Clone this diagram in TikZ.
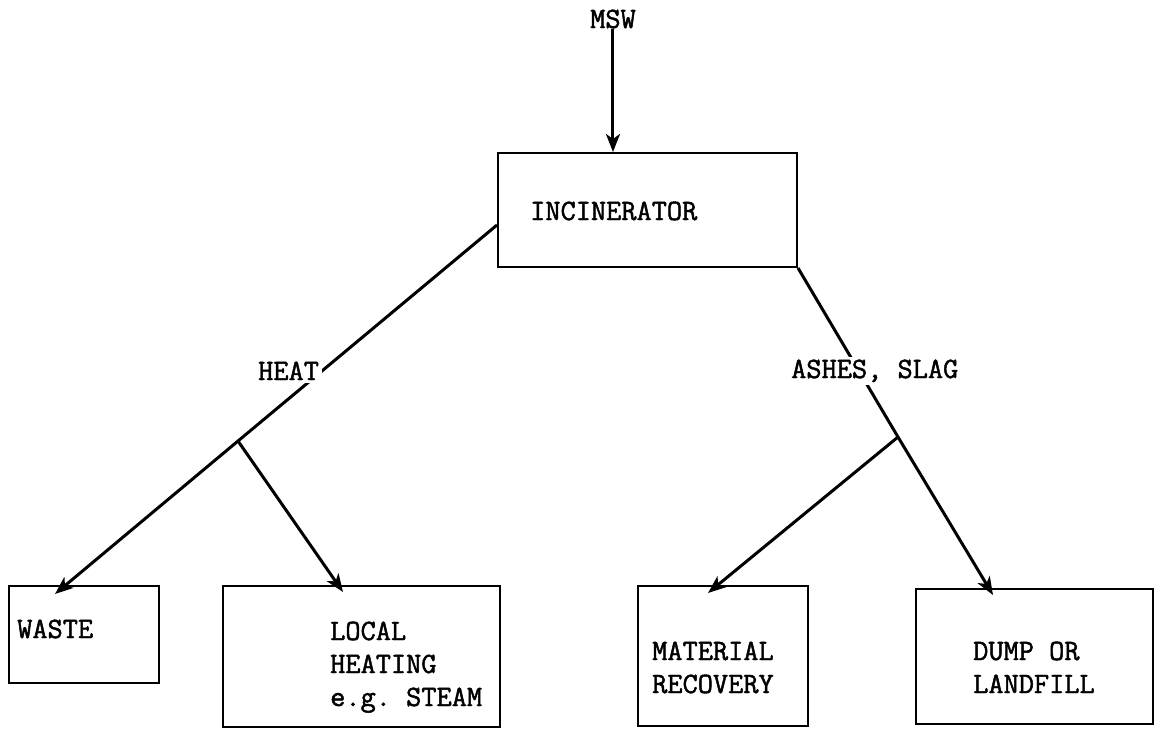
\documentclass[tikz,border=0pt]{standalone}
\usepackage{fontspec}
\setmonofont{Latin Modern Mono}[FakeBold=1.6]
\usetikzlibrary{arrows.meta}
\begin{document}
\begin{tikzpicture}[x=1pt,y=-1pt,
  box/.style={draw, line width=2pt, inner sep=0pt, anchor=north west},
  tt/.style={font=\ttfamily\bfseries\fontsize{29.5}{33}\selectfont},
  txt/.style={tt, inner sep=0pt, anchor=base west, align=left},
  lbl/.style={tt, fill=white, inner sep=3pt, anchor=base west},
  conn/.style={line width=3pt},
  arr/.style={conn, -{Stealth[length=18pt,width=14pt,inset=5pt]}}]
\useasboundingbox (0,0) rectangle (1156,728);

% boxes
\node[box, minimum width=299pt, minimum height=114pt] (inc) at (497,152) {};
\node[box, minimum width=150pt, minimum height=97pt] (waste) at (8,585) {};
\node[box, minimum width=277pt, minimum height=141pt] (local) at (222,585) {};
\node[box, minimum width=170pt, minimum height=140pt] (mat) at (637,585) {};
\node[box, minimum width=237pt, minimum height=135pt] (dump) at (915,588) {};

% texts (base anchor of multi-line nodes = last line)
\node[txt] (msw) at (590,28) {MSW};
\node[txt] (inct) at (530,220) {INCINERATOR};
\node[txt] (wastet) at (17,638) {WASTE};
\node[txt] (localt) at (330,706) {LOCAL\\HEATING\\e.g. STEAM};
\node[txt] (matt) at (652,693) {MATERIAL\\RECOVERY};
\node[txt] (dumpt) at (973,693) {DUMP OR\\LANDFILL};

% connector points
\coordinate (l0) at (497,225);
\coordinate (jl) at (238,441);
\coordinate (wt) at (55,594);
\coordinate (lt) at (343,592);
\coordinate (jr) at (898,437);
\coordinate (dt) at (993,595);
\coordinate (mt) at (708,593);

% connectors
\draw[arr] (msw.south) -- (msw.south |- inc.north);
\draw[arr] (l0) -- (jl) -- (wt);
\draw[arr] (jl) -- (lt);
\draw[arr] (inc.south east) -- (jr) -- (dt);
\draw[arr] (jr) -- (mt);

% labels on lines
\node[lbl] (heat) at (255,380) {HEAT};
\node[lbl] (ash) at (788,378) {ASHES, SLAG};
\end{tikzpicture}
\end{document}
